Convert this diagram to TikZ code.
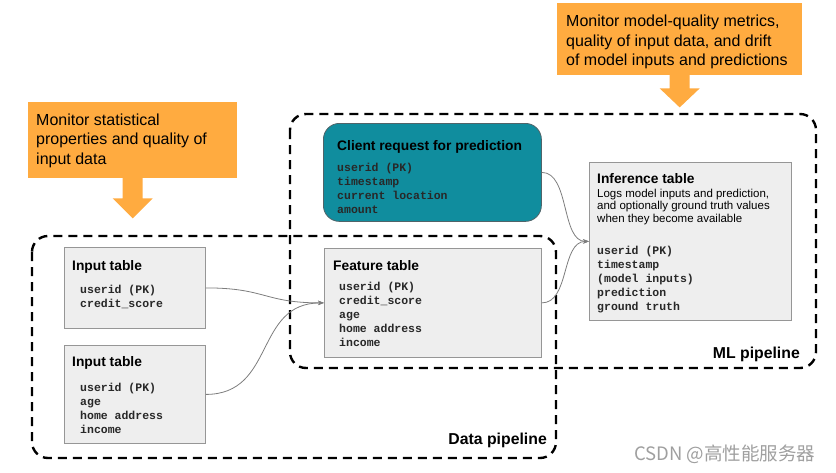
\documentclass[tikz,border=0pt]{standalone}
\usepackage{fontspec}
\setmainfont{Liberation Sans}
\setmonofont{Liberation Mono}
\newfontfamily\cjkfont{Noto Sans CJK SC}
\usetikzlibrary{arrows.meta}
\definecolor{orangebox}{RGB}{255,171,64}
\definecolor{tealbox}{RGB}{16,141,158}
\definecolor{tealedge}{RGB}{80,100,105}
\definecolor{tablefill}{RGB}{238,238,238}
\definecolor{tableedge}{RGB}{150,150,150}
\definecolor{linkgray}{RGB}{125,125,125}
\definecolor{monotext}{RGB}{40,40,40}
\begin{document}
\begin{tikzpicture}[x=1pt,y=-1pt,
  pipe/.style={draw=black, line width=2.4pt, dash pattern=on 9pt off 6pt, rounded corners=16pt},
  tbl/.style={draw=tableedge, fill=tablefill, line width=0.8pt, anchor=north west, inner sep=0pt},
  req/.style={draw=tealedge, fill=tealbox, line width=0.8pt, anchor=north west, inner sep=0pt, rounded corners=16pt},
  callout/.style={fill=orangebox, anchor=north west, inner sep=0pt},
  callouttext/.style={anchor=north west, inner sep=0pt, align=left, font=\fontsize{16}{19.5}\selectfont},
  ttl/.style={anchor=base west, inner sep=0pt, font=\fontsize{13.8}{16}\selectfont\bfseries},
  mono/.style={anchor=north west, inner sep=0pt, align=left, text=monotext, font=\fontsize{11.5}{14}\selectfont\ttfamily\bfseries},
  desc/.style={anchor=north west, inner sep=0pt, align=left, font=\fontsize{11.5}{12.5}\selectfont},
  pipelabel/.style={anchor=base east, inner sep=0pt, font=\fontsize{15.8}{18}\selectfont\bfseries},
  link/.style={draw=linkgray, line width=0.8pt},
  tip/.style={-{Stealth[length=6pt,width=4.5pt]}}
]
\useasboundingbox (0,0) rectangle (836,472);

% dashed pipeline frames
\draw[pipe] (290,114) rectangle (816,368);
\draw[pipe] (32,236) rectangle (556,458);
\node[pipelabel] (mllab) at (800,358) {ML pipeline};
\node[pipelabel] (datalab) at (547,444) {Data pipeline};

% callouts
\node[callout, minimum width=209pt, minimum height=76pt] (o1) at (28,102) {};
\node[callouttext] (o1t) at (36,111.6) {\strut Monitor statistical\\properties and quality of\\input data};
\fill[orangebox] ([xshift=-10pt,yshift=1pt]o1.south) -- ++(0,21) -- ++(-10,0) -- ++(20,20) -- ++(20,-20) -- ++(-10,0) -- ++(0,-21) -- cycle;

\node[callout, minimum width=245pt, minimum height=72pt] (o2) at (557,3) {};
\node[callouttext] (o2t) at (566,13) {\strut Monitor model-quality metrics,\\quality of input data, and drift\\of model inputs and predictions};
\fill[orangebox] ([xshift=-10pt,yshift=1pt]o2.south) -- ++(0,14) -- ++(-10,0) -- ++(20,19) -- ++(20,-19) -- ++(-10,0) -- ++(0,-14) -- cycle;

% client request
\node[req, minimum width=218pt, minimum height=98pt] (client) at (323,123) {};
\node[ttl] (clientt) at (337,150) {Client request for prediction};
\node[mono] (clientf) at (337,161.2) {\strut userid (PK)\\timestamp\\current location\\amount};

% inference table
\node[tbl, minimum width=202pt, minimum height=158pt] (inf) at (589,162) {};
\node[ttl] (inft) at (597,183) {Inference table};
\node[desc] (infd) at (597,188.3) {\strut Logs model inputs and prediction,\\and optionally ground truth values\\when they become available};
\node[mono] (inff) at (597,244.2) {\strut userid (PK)\\timestamp\\(model inputs)\\prediction\\ground truth};

% input tables
\node[tbl, minimum width=141pt, minimum height=81pt] (in1) at (64,247) {};
\node[ttl] (in1t) at (72,270) {Input table};
\node[mono] (in1f) at (80,283.2) {\strut userid (PK)\\credit\_score};

\node[tbl, minimum width=141pt, minimum height=98pt] (in2) at (64,345) {};
\node[ttl] (in2t) at (72,366) {Input table};
\node[mono] (in2f) at (80,381.2) {\strut userid (PK)\\age\\home address\\income};

% feature table
\node[tbl, minimum width=217pt, minimum height=109pt] (feat) at (324,248) {};
\node[ttl] (featt) at (333,270) {Feature table};
\node[mono] (featf) at (339,280.2) {\strut userid (PK)\\credit\_score\\age\\home address\\income};

% connectors
\draw[link, tip] (in1.east) .. controls +(60,0) and +(-60,0) .. (feat.west);
\draw[link, tip] (in2.east) .. controls +(70,0) and +(-70,0) .. (feat.west);
\draw[link, tip] (client.east) .. controls +(28,0) and +(-28,0) .. (inf.west);
\draw[link, tip] (feat.east) .. controls +(28,0) and +(-28,0) .. (inf.west);

% watermark
\node[anchor=base west, inner sep=0pt, text=gray!75, font=\fontsize{18.5}{21}\selectfont\cjkfont] (wm) at (634,460) {CSDN @高性能服务器};
\end{tikzpicture}
\end{document}
